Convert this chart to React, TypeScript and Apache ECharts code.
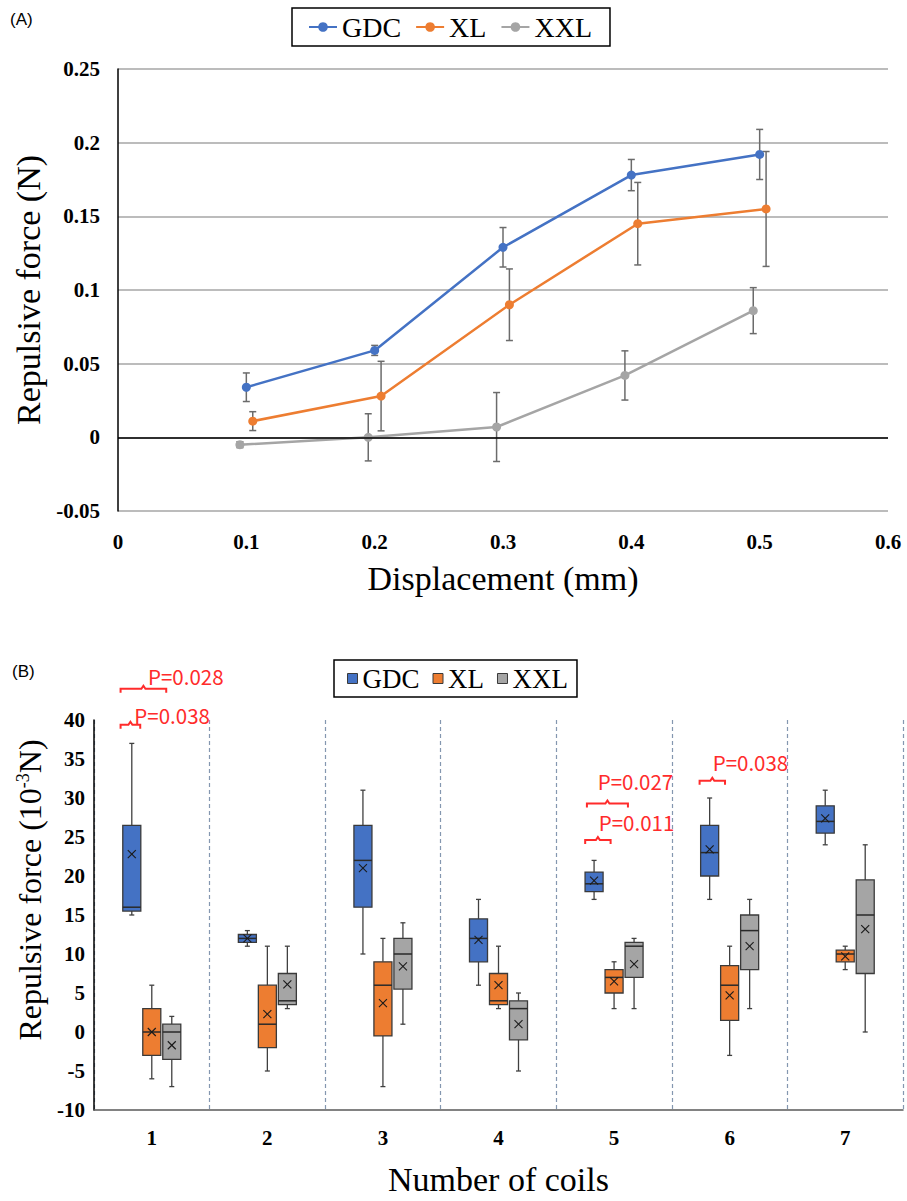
import React, { useEffect, useRef } from 'react';
import * as echarts from 'echarts';

// ---------------- Panel A data ----------------
const seriesNamesA = ['GDC', 'XL', 'XXL'];
const gdcX = [0.1, 0.2, 0.3, 0.4, 0.5];
const xlX = [0.105, 0.205, 0.305, 0.405, 0.505];
const xxlX = [0.095, 0.195, 0.295, 0.395, 0.495];
const gdcMean = [0.034, 0.059, 0.129, 0.178, 0.192];
const gdcSd = [0.0097, 0.0034, 0.0134, 0.0106, 0.017];
const xlMean = [0.011, 0.028, 0.09, 0.145, 0.155];
const xlSd = [0.0064, 0.0236, 0.0243, 0.028, 0.039];
const xxlMean = [-0.005, 0.0, 0.007, 0.042, 0.086];
const xxlSd = [0.002, 0.016, 0.0234, 0.0167, 0.0156];
const xTicksA = [0, 0.1, 0.2, 0.3, 0.4, 0.5, 0.6];
const yTicksA = [-0.05, 0, 0.05, 0.1, 0.15, 0.2, 0.25];

// ---------------- Panel B data ----------------
const coilCategories = ['1', '2', '3', '4', '5', '6', '7'];
// [min, Q1, median, Q3, max]
const gdcBox = [
  [15, 15.5, 16, 26.5, 37],
  [11, 11.5, 12, 12.5, 13],
  [10, 16, 22, 26.5, 31],
  [6, 9, 12, 14.5, 17],
  [17, 18, 19, 20.5, 22],
  [17, 20, 23, 26.5, 30],
  [24, 25.5, 27, 29, 31],
];
const gdcBoxMean = [22.8, 12, 21, 11.8, 19.4, 23.4, 27.4];
const xlBox = [
  [-6, -3, 0, 3, 6],
  [-5, -2, 1, 6, 11],
  [-7, -0.5, 6, 9, 12],
  [3, 3.5, 4, 7.5, 11],
  [3, 5, 7, 8, 9],
  [-3, 1.5, 6, 8.5, 11],
  [8, 9, 10, 10.5, 11],
];
const xlBoxMean = [0, 2.3, 3.7, 6, 6.5, 4.7, 9.7];
const xxlBox = [
  [-7, -3.5, 0, 1, 2],
  [3, 3.5, 4, 7.5, 11],
  [1, 5.5, 10, 12, 14],
  [-5, -1, 3, 4, 5],
  [3, 7, 11, 11.5, 12],
  [3, 8, 13, 15, 17],
  [0, 7.5, 15, 19.5, 24],
];
const xxlBoxMean = [-1.7, 6.1, 8.4, 1, 8.7, 11, 13.2];
const yTicksB = [-10, -5, 0, 5, 10, 15, 20, 25, 30, 35, 40];
const pLabels = ['P=0.028', 'P=0.038', 'P=0.027', 'P=0.011', 'P=0.038'];
const pCategory = [0, 0, 4, 4, 5];
const pBracketLevel = [44, 39.4, 29.3, 24.6, 32.2];
const pLabelLevel = [45.7, 40.7, 32.2, 26.9, 34.6];
const pSpan = [
  [-0.27, 0.125],
  [-0.27, -0.1],
  [-0.235, 0.12],
  [-0.25, -0.03],
  [-0.26, -0.04],
];
const pLabelStart = [-0.033, -0.151, -0.142, -0.133, -0.147];

// ---------------- styles ----------------
const SERIF = '"Liberation Serif", "Times New Roman", serif';
const COLORS = ['#4472C4', '#ED7D31', '#A5A5A5'];
const BOX_OFFSETS = [-0.173, 0, 0.173];
const BOX_WIDTH = 0.156;

const fmt = (v: number) => String(Math.round(v * 1000) / 1000);

function errorSeries(name: string, xs: number[], means: number[], sds: number[]) {
  return {
    type: 'custom',
    name,
    z: 1,
    silent: true,
    data: xs.map((x, i) => [x, means[i], sds[i]]),
    encode: { x: 0, y: 1 },
    renderItem: (params: any, api: any) => {
      const x = api.value(0);
      const y = api.value(1);
      const e = api.value(2);
      const top = api.coord([x, y + e]);
      const bot = api.coord([x, y - e]);
      const cap = 3.5;
      const style = { stroke: '#6b6b6b', lineWidth: 1.5 };
      return {
        type: 'group',
        children: [
          { type: 'line', shape: { x1: top[0], y1: top[1], x2: bot[0], y2: bot[1] }, style },
          { type: 'line', shape: { x1: top[0] - cap, y1: top[1], x2: top[0] + cap, y2: top[1] }, style },
          { type: 'line', shape: { x1: bot[0] - cap, y1: bot[1], x2: bot[0] + cap, y2: bot[1] }, style },
        ],
      };
    },
  };
}

function lineSeries(name: string, xs: number[], means: number[], color: string, extra: any = {}) {
  return {
    type: 'line',
    name,
    z: 3,
    data: xs.map((x, i) => [x, means[i]]),
    symbol: 'circle',
    symbolSize: 9,
    color,
    lineStyle: { width: 2.5, color },
    itemStyle: { color },
    ...extra,
  };
}

function boxSeries(name: string, boxes: number[][], means: number[], color: string, offset: number) {
  return {
    type: 'custom',
    name,
    itemStyle: { color, borderColor: '#3a3a3a', borderWidth: 1 },
    data: boxes.map((b, i) => [i, b[0], b[1], b[2], b[3], b[4], means[i]]),
    encode: { x: 0, y: [1, 2, 3, 4, 5] },
    renderItem: (params: any, api: any) => {
      const cat = api.value(0);
      const band = api.size([1, 0])[0];
      const cx = api.coord([cat, 0])[0] + offset * band;
      const hw = (BOX_WIDTH * band) / 2;
      const py = (v: number) => api.coord([cat, v])[1];
      const yMin = py(api.value(1));
      const yQ1 = py(api.value(2));
      const yMed = py(api.value(3));
      const yQ3 = py(api.value(4));
      const yMax = py(api.value(5));
      const yMean = py(api.value(6));
      const ls = { stroke: '#404040', lineWidth: 1.3 };
      const cap = 2.5;
      const mk = 4;
      return {
        type: 'group',
        children: [
          { type: 'line', shape: { x1: cx, y1: yMax, x2: cx, y2: yQ3 }, style: ls },
          { type: 'line', shape: { x1: cx, y1: yQ1, x2: cx, y2: yMin }, style: ls },
          { type: 'line', shape: { x1: cx - cap, y1: yMax, x2: cx + cap, y2: yMax }, style: ls },
          { type: 'line', shape: { x1: cx - cap, y1: yMin, x2: cx + cap, y2: yMin }, style: ls },
          {
            type: 'rect',
            shape: { x: cx - hw, y: yQ3, width: hw * 2, height: yQ1 - yQ3 },
            style: { fill: color, stroke: '#3a3a3a', lineWidth: 1.3 },
          },
          { type: 'line', shape: { x1: cx - hw, y1: yMed, x2: cx + hw, y2: yMed }, style: { stroke: '#2a2a2a', lineWidth: 1.5 } },
          { type: 'line', shape: { x1: cx - mk, y1: yMean - mk, x2: cx + mk, y2: yMean + mk }, style: { stroke: '#1a1a1a', lineWidth: 1.1 } },
          { type: 'line', shape: { x1: cx - mk, y1: yMean + mk, x2: cx + mk, y2: yMean - mk }, style: { stroke: '#1a1a1a', lineWidth: 1.1 } },
        ],
      };
    },
  };
}

const annotationSeries = {
  type: 'custom',
  name: 'pvalues',
  silent: true,
  clip: false,
  z: 10,
  data: pLabels.map((_, i) => [pCategory[i], pBracketLevel[i], pLabelLevel[i]]),
  encode: { x: 0, y: 1 },
  renderItem: (params: any, api: any) => {
    const i = params.dataIndex;
    const cat = api.value(0);
    const band = api.size([1, 0])[0];
    const c = api.coord([cat, 0])[0];
    const x1 = c + pSpan[i][0] * band;
    const x2 = c + pSpan[i][1] * band;
    const mid = (x1 + x2) / 2;
    const y = api.coord([cat, api.value(1)])[1];
    const ty = api.coord([cat, api.value(2)])[1];
    const red = '#ff2b2b';
    return {
      type: 'group',
      children: [
        {
          type: 'polyline',
          shape: {
            points: [
              [x1, y + 4], [x1, y], [mid - 2, y], [mid, y - 3], [mid + 2, y], [x2, y], [x2, y + 4],
            ],
          },
          style: { stroke: red, lineWidth: 2, fill: 'none' },
        },
        {
          type: 'text',
          x: c + pLabelStart[i] * band,
          y: ty,
          style: {
            text: pLabels[i],
            fill: red,
            fontSize: 20.5,
            fontFamily: '"Noto Sans CJK JP", "Noto Sans", sans-serif',
            align: 'left',
            verticalAlign: 'middle',
          },
        },
      ],
    };
  },
};

const optionA: any = {
  animation: false,
  backgroundColor: '#fff',
  textStyle: { fontFamily: SERIF },
  graphic: [
    { type: 'text', left: 10, top: 11, style: { text: '(A)', fontSize: 17, fontFamily: '"Liberation Sans", Arial, sans-serif', fill: '#000' } },
  ],
  legend: {
    data: seriesNamesA,
    top: 8,
    left: 292,
    borderColor: '#000',
    borderWidth: 1.5,
    padding: [5, 18, 5, 16],
    itemGap: 14,
    itemWidth: 28,
    itemHeight: 12,
    textStyle: { fontFamily: SERIF, fontSize: 28, color: '#000' },
  },
  grid: { left: 118, right: 19, top: 69, bottom: 109 },
  xAxis: {
    type: 'value',
    min: xTicksA[0],
    max: xTicksA[xTicksA.length - 1],
    interval: 0.1,
    axisLine: { show: false },
    axisTick: { show: false },
    splitLine: { show: false },
    axisLabel: { fontFamily: SERIF, fontWeight: 'bold', fontSize: 21, color: '#000', margin: 20, formatter: fmt },
    name: 'Displacement (mm)',
    nameLocation: 'middle',
    nameGap: 50,
    nameTextStyle: { fontFamily: SERIF, fontSize: 34, color: '#000' },
  },
  yAxis: {
    type: 'value',
    min: yTicksA[0],
    max: yTicksA[yTicksA.length - 1],
    interval: 0.05,
    axisLine: { show: true, lineStyle: { color: '#000', width: 1.5 } },
    axisTick: { show: false },
    splitLine: { show: true, lineStyle: { color: '#a6a6a6', width: 1.5 } },
    axisLabel: { fontFamily: SERIF, fontWeight: 'bold', fontSize: 21, color: '#000', margin: 18, formatter: fmt },
    name: 'Repulsive force (N)',
    nameLocation: 'middle',
    nameGap: 73,
    nameTextStyle: { fontFamily: SERIF, fontSize: 34, color: '#000' },
  },
  series: [
    errorSeries('GDC err', gdcX, gdcMean, gdcSd),
    errorSeries('XL err', xlX, xlMean, xlSd),
    errorSeries('XXL err', xxlX, xxlMean, xxlSd),
    lineSeries('GDC', gdcX, gdcMean, COLORS[0], {
      markLine: {
        silent: true,
        symbol: ['none', 'none'],
        label: { show: false },
        lineStyle: { color: '#000', width: 1.5, type: 'solid' },
        data: [{ yAxis: 0 }],
      },
    }),
    lineSeries('XL', xlX, xlMean, COLORS[1]),
    lineSeries('XXL', xxlX, xxlMean, COLORS[2]),
  ],
};

const optionB: any = {
  animation: false,
  backgroundColor: '#fff',
  textStyle: { fontFamily: SERIF },
  graphic: [
    { type: 'text', left: 12, top: 43, style: { text: '(B)', fontSize: 17, fontFamily: '"Liberation Sans", Arial, sans-serif', fill: '#000' } },
  ],
  legend: {
    data: seriesNamesA,
    top: 40,
    left: 334,
    borderColor: '#000',
    borderWidth: 1.5,
    padding: [5, 9, 5, 13],
    itemGap: 13,
    itemWidth: 10,
    itemHeight: 10,
    icon: 'rect',
    itemStyle: { borderColor: '#3a3a3a', borderWidth: 1 },
    textStyle: { fontFamily: SERIF, fontSize: 27, color: '#000' },
  },
  grid: { left: 94, right: 4, top: 100, bottom: 84 },
  xAxis: {
    type: 'category',
    data: coilCategories,
    boundaryGap: true,
    axisLine: { show: true, onZero: false, lineStyle: { color: '#595959', width: 1.5 } },
    axisTick: { show: false },
    splitLine: { show: true, interval: 0, lineStyle: { color: '#8497b0', width: 1.2, type: [4, 3] } },
    axisLabel: { fontFamily: SERIF, fontWeight: 'bold', fontSize: 21, color: '#000', margin: 17 },
    name: 'Number of coils',
    nameLocation: 'middle',
    nameGap: 52,
    nameTextStyle: { fontFamily: SERIF, fontSize: 34, color: '#000' },
  },
  yAxis: {
    type: 'value',
    min: yTicksB[0],
    max: yTicksB[yTicksB.length - 1],
    interval: 5,
    axisLine: { show: true, lineStyle: { color: '#000', width: 1.5 } },
    axisTick: { show: false },
    splitLine: { show: false },
    axisLabel: { fontFamily: SERIF, fontWeight: 'bold', fontSize: 21, color: '#000', margin: 9 },
    name: '{a|Repulsive force (10}{s|-3}{a|N)}',
    nameLocation: 'middle',
    nameGap: 48,
    nameTextStyle: {
      color: '#000',
      padding: [0, 0, 0, 50],
      rich: {
        a: { fontFamily: SERIF, fontSize: 32, color: '#000' },
        s: { fontFamily: SERIF, fontSize: 18, color: '#000', verticalAlign: 'top' },
      },
    },
  },
  series: [
    boxSeries('GDC', gdcBox, gdcBoxMean, COLORS[0], BOX_OFFSETS[0]),
    boxSeries('XL', xlBox, xlBoxMean, COLORS[1], BOX_OFFSETS[1]),
    boxSeries('XXL', xxlBox, xxlBoxMean, COLORS[2], BOX_OFFSETS[2]),
    annotationSeries,
  ],
};

export default function App() {
  const refA = useRef<HTMLDivElement>(null);
  const refB = useRef<HTMLDivElement>(null);
  useEffect(() => {
    const a = echarts.init(refA.current as HTMLDivElement, null, { renderer: 'svg' });
    a.setOption(optionA);
    const b = echarts.init(refB.current as HTMLDivElement, null, { renderer: 'svg' });
    b.setOption(optionB);
    return () => {
      a.dispose();
      b.dispose();
    };
  }, []);
  return (
    <div style={{ position: 'absolute', left: 0, top: 0, width: 907, height: 1201, background: '#fff' }}>
      <div ref={refA} style={{ width: 907, height: 620 }} />
      <div ref={refB} style={{ width: 907, height: 581 }} />
    </div>
  );
}
